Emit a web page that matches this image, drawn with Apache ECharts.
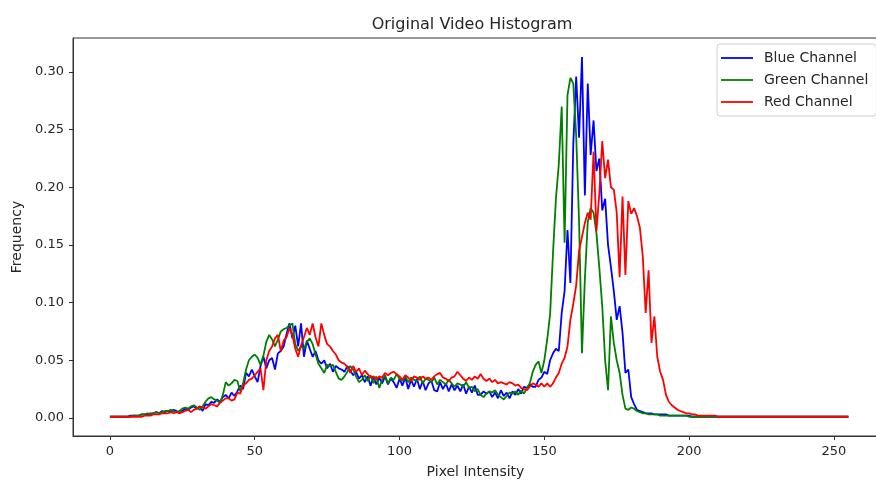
<!DOCTYPE html>
<html>
<head>
<meta charset="utf-8">
<script src="https://cdn.jsdelivr.net/npm/echarts@6/dist/echarts.min.js"></script>
<style>
  html, body { margin: 0; padding: 0; background: #fff; }
  #chart { width: 876px; height: 480px; }
</style>
</head>
<body>
<div id="chart"></div>
<script>
// 刻度与图例
var xTicks = [0, 50, 100, 150, 200, 250];
var yTicks = [0, 0.05, 0.10, 0.15, 0.20, 0.25, 0.30];
var channelNames = ['Blue Channel', 'Green Channel', 'Red Channel'];

// 各通道直方图（像素强度 0..255）
var blueValues = [
  0.001,0.001,0.001,0.001,0.001,0.001,0.001,0.002,0.002,0.002, // 0
  0.002,0.003,0.003,0.003,0.004,0.004,0.005,0.004,0.006,0.005, // 10
  0.006,0.005,0.007,0.006,0.004,0.006,0.008,0.007,0.009,0.010, // 20
  0.008,0.010,0.006,0.012,0.011,0.014,0.013,0.016,0.014,0.018, // 30
  0.020,0.017,0.022,0.019,0.023,0.028,0.025,0.039,0.036,0.042, // 40
  0.036,0.031,0.045,0.053,0.043,0.050,0.052,0.042,0.056,0.058, // 50
  0.062,0.073,0.082,0.069,0.080,0.062,0.082,0.053,0.067,0.060, // 60
  0.053,0.058,0.050,0.047,0.050,0.043,0.047,0.040,0.045,0.043, // 70
  0.042,0.040,0.045,0.041,0.037,0.040,0.034,0.037,0.031,0.036, // 80
  0.028,0.036,0.029,0.035,0.030,0.036,0.029,0.034,0.031,0.026, // 90
  0.034,0.028,0.035,0.025,0.033,0.027,0.034,0.025,0.032,0.024, // 100
  0.030,0.032,0.024,0.023,0.031,0.025,0.030,0.023,0.029,0.024, // 110
  0.028,0.023,0.029,0.021,0.027,0.022,0.028,0.020,0.020,0.023, // 120
  0.021,0.023,0.018,0.022,0.017,0.024,0.019,0.022,0.017,0.023, // 130
  0.020,0.025,0.021,0.027,0.026,0.029,0.027,0.027,0.033,0.035, // 140
  0.040,0.038,0.050,0.056,0.060,0.058,0.091,0.110,0.163,0.117, // 150
  0.237,0.296,0.243,0.313,0.193,0.290,0.228,0.258,0.214,0.225, // 160
  0.180,0.190,0.150,0.131,0.110,0.085,0.097,0.074,0.039,0.042, // 170
  0.018,0.012,0.007,0.006,0.005,0.004,0.004,0.004,0.003,0.003, // 180
  0.003,0.003,0.003,0.002,0.002,0.002,0.002,0.002,0.002,0.002, // 190
  0.002,0.001,0.001,0.001,0.001,0.001,0.001,0.001,0.001,0.001, // 200
  0.001,0.001,0.001,0.001,0.001,0.001,0.001,0.001,0.001,0.001, // 210
  0.001,0.001,0.001,0.001,0.001,0.001,0.001,0.001,0.001,0.001, // 220
  0.001,0.001,0.001,0.001,0.001,0.001,0.001,0.001,0.001,0.001, // 230
  0.001,0.001,0.001,0.001,0.001,0.001,0.001,0.001,0.001,0.001, // 240
  0.001,0.001,0.001,0.001,0.001,0.001                          // 250
];

var greenValues = [
  0.001,0.001,0.001,0.001,0.001,0.001,0.001,0.001,0.002,0.002, // 0
  0.002,0.003,0.003,0.004,0.003,0.004,0.005,0.004,0.005,0.006, // 10
  0.006,0.007,0.006,0.005,0.006,0.008,0.009,0.008,0.010,0.011, // 20
  0.009,0.007,0.010,0.014,0.017,0.018,0.016,0.015,0.013,0.020, // 30
  0.031,0.028,0.030,0.033,0.032,0.023,0.030,0.042,0.050,0.053, // 40
  0.055,0.052,0.046,0.054,0.066,0.072,0.068,0.062,0.068,0.075, // 50
  0.077,0.078,0.080,0.082,0.064,0.058,0.062,0.060,0.066,0.069, // 60
  0.064,0.055,0.047,0.043,0.039,0.046,0.045,0.046,0.040,0.034, // 70
  0.033,0.036,0.040,0.045,0.042,0.036,0.031,0.033,0.037,0.032, // 80
  0.037,0.030,0.036,0.026,0.033,0.037,0.030,0.035,0.033,0.038, // 90
  0.034,0.032,0.036,0.031,0.035,0.033,0.032,0.036,0.030,0.034, // 100
  0.033,0.031,0.035,0.029,0.033,0.031,0.029,0.033,0.030,0.027, // 110
  0.030,0.029,0.027,0.031,0.026,0.027,0.023,0.025,0.020,0.018, // 120
  0.021,0.023,0.022,0.024,0.020,0.018,0.016,0.019,0.022,0.021, // 130
  0.023,0.020,0.024,0.021,0.026,0.030,0.040,0.046,0.049,0.039, // 140
  0.050,0.068,0.090,0.143,0.190,0.220,0.270,0.152,0.280,0.295, // 150
  0.290,0.245,0.170,0.056,0.120,0.170,0.182,0.178,0.160,0.130, // 160
  0.097,0.050,0.024,0.088,0.065,0.050,0.039,0.020,0.008,0.007, // 170
  0.009,0.008,0.006,0.005,0.004,0.004,0.003,0.003,0.003,0.003, // 180
  0.002,0.002,0.002,0.002,0.002,0.002,0.002,0.002,0.002,0.002, // 190
  0.001,0.001,0.001,0.001,0.001,0.001,0.001,0.001,0.001,0.001, // 200
  0.001,0.001,0.001,0.001,0.001,0.001,0.001,0.001,0.001,0.001, // 210
  0.001,0.001,0.001,0.001,0.001,0.001,0.001,0.001,0.001,0.001, // 220
  0.001,0.001,0.001,0.001,0.001,0.001,0.001,0.001,0.001,0.001, // 230
  0.001,0.001,0.001,0.001,0.001,0.001,0.001,0.001,0.001,0.001, // 240
  0.001,0.001,0.001,0.001,0.001,0.001                          // 250
];

var redValues = [
  0.001,0.001,0.001,0.001,0.001,0.001,0.001,0.001,0.001,0.001, // 0
  0.001,0.001,0.002,0.002,0.002,0.003,0.003,0.003,0.004,0.004, // 10
  0.004,0.005,0.004,0.005,0.004,0.005,0.006,0.007,0.005,0.007, // 20
  0.008,0.010,0.009,0.008,0.010,0.012,0.011,0.010,0.013,0.015, // 30
  0.017,0.017,0.015,0.016,0.022,0.021,0.028,0.030,0.033,0.034, // 40
  0.037,0.040,0.043,0.024,0.050,0.058,0.062,0.069,0.072,0.058, // 50
  0.067,0.070,0.078,0.072,0.060,0.053,0.063,0.070,0.078,0.072, // 60
  0.082,0.070,0.062,0.082,0.072,0.064,0.062,0.058,0.055,0.050, // 70
  0.048,0.047,0.044,0.039,0.045,0.040,0.043,0.037,0.041,0.038, // 80
  0.035,0.036,0.033,0.036,0.035,0.039,0.037,0.039,0.040,0.038, // 90
  0.036,0.033,0.037,0.035,0.032,0.036,0.035,0.033,0.036,0.034, // 100
  0.035,0.033,0.036,0.038,0.039,0.035,0.034,0.032,0.035,0.036, // 110
  0.040,0.037,0.034,0.032,0.035,0.033,0.036,0.034,0.038,0.034, // 120
  0.032,0.034,0.031,0.033,0.030,0.031,0.030,0.029,0.031,0.030, // 130
  0.028,0.029,0.026,0.025,0.024,0.027,0.030,0.029,0.027,0.030, // 140
  0.027,0.030,0.027,0.030,0.035,0.039,0.047,0.052,0.062,0.085, // 150
  0.099,0.115,0.145,0.157,0.169,0.178,0.172,0.231,0.162,0.195, // 160
  0.240,0.208,0.224,0.200,0.198,0.178,0.122,0.192,0.124,0.188, // 170
  0.177,0.182,0.175,0.165,0.140,0.091,0.128,0.065,0.088,0.053, // 180
  0.040,0.033,0.020,0.014,0.011,0.009,0.007,0.006,0.005,0.004, // 190
  0.004,0.003,0.003,0.002,0.002,0.002,0.002,0.002,0.002,0.002, // 200
  0.001,0.001,0.001,0.001,0.001,0.001,0.001,0.001,0.001,0.001, // 210
  0.001,0.001,0.001,0.001,0.001,0.001,0.001,0.001,0.001,0.001, // 220
  0.001,0.001,0.001,0.001,0.001,0.001,0.001,0.001,0.001,0.001, // 230
  0.001,0.001,0.001,0.001,0.001,0.001,0.001,0.001,0.001,0.001, // 240
  0.001,0.001,0.001,0.001,0.001,0.001                          // 250
];

var channelValues = [blueValues, greenValues, redValues];
var channelColors = ['#0000ff', '#008000', '#ff0000'];

// 转为 [强度, 频率] 点对
var toPoints = function(values) {
  return values.map(function(v, i) { return [i, v]; });
};

var font = 'DejaVu Sans';
var textColor = '#262626';

var myChart = echarts.init(document.getElementById('chart'));

var series = channelNames.map(function(name, k) {
  return {
    name: name,
    type: 'line',
    data: toPoints(channelValues[k]),
    showSymbol: false,
    symbol: 'none',
    lineStyle: { width: 1.8, color: channelColors[k] },
    itemStyle: { color: channelColors[k] },
    z: 2 + k
  };
});

var option = {
  animation: false,
  backgroundColor: '#fff',
  title: {
    text: 'Original Video Histogram',
    left: 467,
    top: 12,
    textAlign: 'center',
    textStyle: { fontFamily: font, fontSize: 16, fontWeight: 'normal', color: textColor }
  },
  legend: {
    data: channelNames,
    orient: 'vertical',
    left: 717,
    top: 44,
    padding: [7, 8, 7, 4],
    itemGap: 8,
    itemWidth: 32,
    itemHeight: 14,
    icon: 'path://M0,6.1 L32,6.1 L32,7.9 L0,7.9 Z',
    backgroundColor: '#fff',
    borderColor: '#d0d0d0',
    borderWidth: 1,
    borderRadius: 3,
    textStyle: { fontFamily: font, fontSize: 14, color: textColor, padding: [0, 0, 0, 6] }
  },
  grid: {
    left: 73,
    top: 38,
    width: 805,
    height: 398,
    show: true,
    borderColor: '#333',
    borderWidth: 1,
    containLabel: false,
    outerBoundsMode: 'none'
  },
  xAxis: {
    type: 'value',
    min: -12.75,
    max: 265.22,
    name: 'Pixel Intensity',
    nameLocation: 'middle',
    nameGap: 29,
    nameTextStyle: { fontFamily: font, fontSize: 14, color: textColor },
    axisLine: { show: true, onZero: false, lineStyle: { color: '#333', width: 1 } },
    axisTick: { show: true, length: 4, customValues: xTicks, lineStyle: { color: '#333' } },
    axisLabel: {
      customValues: xTicks,
      fontFamily: font, fontSize: 13, color: textColor, margin: 9
    },
    splitLine: { show: false }
  },
  yAxis: {
    type: 'value',
    min: -0.0157,
    max: 0.3295,
    name: 'Frequency',
    nameLocation: 'middle',
    nameGap: 49,
    nameTextStyle: { fontFamily: font, fontSize: 14, color: textColor },
    axisLine: { show: true, onZero: false, lineStyle: { color: '#333', width: 1 } },
    axisTick: { show: true, length: 4, customValues: yTicks, lineStyle: { color: '#333' } },
    axisLabel: {
      customValues: yTicks,
      fontFamily: font, fontSize: 13, color: textColor, margin: 9,
      formatter: function(v) { return v.toFixed(2); }
    },
    splitLine: { show: false }
  },
  series: series
};

myChart.setOption(option);
</script>
</body>
</html>
